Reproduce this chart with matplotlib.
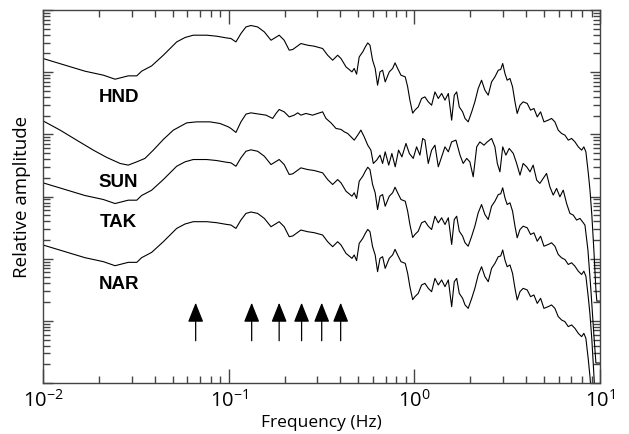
import numpy as np
import matplotlib
matplotlib.use("Agg")
import matplotlib.pyplot as plt
from matplotlib.ticker import LogLocator, NullFormatter

plt.rcParams["font.family"] = ["Open Sans", "DejaVu Sans"]

# spectra, stored as log10(frequency) / log10(amplitude)
# HND, TAK and NAR share one shape (offset by whole decades), SUN differs
base_logf = [
    -2.000, -1.774, -1.675, -1.612, -1.541, -1.495, -1.469, -1.415, -1.352, -1.280,
    -1.235, -1.191, -1.118, -1.065, -1.011, -0.988, -0.961, -0.934, -0.907, -0.880,
    -0.844, -0.808, -0.772, -0.728, -0.701, -0.674, -0.655, -0.611, -0.575, -0.539,
    -0.494, -0.467, -0.440, -0.413, -0.395, -0.368, -0.351, -0.336, -0.324, -0.311,
    -0.297, -0.278, -0.264, -0.251, -0.239, -0.225, -0.211, -0.198, -0.185, -0.171,
    -0.157, -0.135, -0.117, -0.104, -0.090, -0.072, -0.049, -0.036, -0.024, -0.009,
    0.003, 0.021, 0.039, 0.057, 0.075, 0.093, 0.111, 0.129, 0.147, 0.165,
    0.183, 0.201, 0.215, 0.228, 0.242, 0.260, 0.273, 0.290, 0.309, 0.326,
    0.344, 0.362, 0.380, 0.398, 0.416, 0.434, 0.452, 0.465, 0.476, 0.488,
    0.500, 0.515, 0.529, 0.542, 0.554, 0.569, 0.586, 0.608, 0.626, 0.644,
    0.662, 0.680, 0.698, 0.721, 0.739, 0.757, 0.775, 0.793, 0.811, 0.829,
    0.847, 0.865, 0.883, 0.901, 0.913, 0.924, 0.937, 0.946, 0.956, 0.967,
    0.978, 0.983, 1.000,
]
base_loga = [
    5.220, 5.016, 4.952, 4.887, 4.941, 4.941, 5.016, 5.101, 5.273, 5.487,
    5.558, 5.595, 5.595, 5.579, 5.551, 5.542, 5.487, 5.622, 5.728, 5.751,
    5.728, 5.648, 5.514, 5.595, 5.514, 5.354, 5.365, 5.461, 5.434, 5.418,
    5.381, 5.273, 5.193, 5.273, 5.220, 5.085, 5.043, 5.005, 5.060, 4.968,
    5.246, 5.326, 5.407, 5.471, 5.434, 5.193, 5.060, 4.791, 5.005, 5.032,
    4.844, 5.005, 5.060, 5.150, 5.060, 4.952, 4.924, 4.764, 4.550, 4.341,
    4.389, 4.442, 4.577, 4.603, 4.523, 4.469, 4.683, 4.577, 4.658, 4.550,
    4.658, 4.228, 4.630, 4.683, 4.442, 4.362, 4.256, 4.201, 4.362, 4.523,
    4.738, 4.871, 4.711, 4.630, 4.844, 4.924, 5.032, 5.043, 5.140, 4.979,
    4.871, 4.899, 4.764, 4.523, 4.336, 4.469, 4.523, 4.497, 4.389, 4.416,
    4.281, 4.362, 4.201, 4.228, 4.256, 4.201, 4.068, 4.014, 3.987, 3.907,
    3.934, 3.879, 3.799, 3.746, 3.799, 3.719, 3.376, 3.103, 2.701, 2.138,
    1.495, 1.318, 1.318,
]

sun_logf = [
    -2.000, -1.908, -1.819, -1.729, -1.657, -1.585, -1.541, -1.495, -1.451, -1.406,
    -1.352, -1.298, -1.226, -1.172, -1.101, -1.047, -1.002, -0.988, -0.961, -0.934,
    -0.907, -0.880, -0.835, -0.799, -0.763, -0.745, -0.728, -0.701, -0.674, -0.647,
    -0.628, -0.611, -0.584, -0.548, -0.521, -0.494, -0.476, -0.449, -0.422, -0.395,
    -0.377, -0.359, -0.341, -0.324, -0.305, -0.288, -0.270, -0.251, -0.234, -0.221,
    -0.203, -0.185, -0.171, -0.157, -0.138, -0.121, -0.103, -0.085, -0.067, -0.045,
    -0.027, -0.006, 0.012, 0.030, 0.045, 0.057, 0.075, 0.093, 0.111, 0.129,
    0.147, 0.165, 0.183, 0.201, 0.224, 0.246, 0.263, 0.282, 0.299, 0.317,
    0.336, 0.353, 0.375, 0.393, 0.416, 0.434, 0.447, 0.461, 0.476, 0.493,
    0.511, 0.533, 0.551, 0.569, 0.586, 0.605, 0.623, 0.640, 0.659, 0.676,
    0.694, 0.712, 0.730, 0.748, 0.766, 0.784, 0.802, 0.820, 0.838, 0.856,
    0.874, 0.892, 0.906, 0.919, 0.935, 0.951, 0.967, 0.978, 1.000,
]
sun_loga = [
    4.217, 4.068, 3.907, 3.746, 3.629, 3.532, 3.505, 3.558, 3.613, 3.746,
    3.918, 4.068, 4.185, 4.201, 4.201, 4.175, 4.121, 4.095, 4.031, 4.201,
    4.325, 4.346, 4.325, 4.309, 4.256, 4.336, 4.400, 4.362, 4.281, 4.309,
    4.346, 4.309, 4.336, 4.309, 4.336, 4.362, 4.256, 4.185, 4.095, 4.079,
    4.040, 4.014, 3.960, 3.907, 3.987, 4.068, 3.960, 3.826, 3.746, 3.532,
    3.585, 3.666, 3.532, 3.719, 3.505, 3.693, 3.478, 3.746, 3.638, 3.854,
    3.693, 3.613, 3.799, 3.666, 3.934, 3.907, 3.532, 3.746, 3.826, 3.478,
    3.638, 3.799, 3.719, 3.879, 3.907, 3.666, 3.532, 3.613, 3.558, 3.317,
    3.799, 3.879, 3.826, 3.879, 3.934, 3.799, 3.532, 3.397, 3.799, 3.666,
    3.773, 3.693, 3.532, 3.344, 3.532, 3.478, 3.397, 3.505, 3.264, 3.211,
    3.291, 3.371, 3.156, 3.023, 3.130, 2.995, 3.103, 2.889, 2.728, 2.701,
    2.621, 2.648, 2.593, 2.540, 2.138, 1.495, 0.772, 0.322, 0.322,
]

stations = ["HND", "SUN", "TAK", "NAR"]
base_offsets = {"HND": 0.0, "TAK": -2.0, "NAR": -3.0}

# arrow frequencies (Hz)
arrow_freqs = [0.0664, 0.133, 0.187, 0.247, 0.317, 0.401]

fig = plt.figure(figsize=(6.29, 4.34), dpi=100)
ax = fig.add_axes([0.0684, 0.1175, 0.8855, 0.8594])

for name in stations:
    if name == "SUN":
        lf = np.array(sun_logf)
        la = np.array(sun_loga)
    else:
        lf = np.array(base_logf)
        la = np.array(base_loga) + base_offsets[name]
    ax.plot(10 ** lf, 10 ** la, color="black", lw=0.8)

ax.set_xscale("log")
ax.set_yscale("log")
ax.set_xlim(1e-2, 1e1)
ax.set_ylim(1e0, 1e6)

# station labels
label_pos = {"HND": 4.60, "SUN": 3.23, "TAK": 2.59, "NAR": 1.58}
for name in stations:
    ax.text(0.0255, 10 ** label_pos[name], name, ha="center", va="center",
            fontsize=13.5, fontweight="bold", family="Liberation Sans")

for f in arrow_freqs:
    ax.annotate("", xy=(f, 10 ** 1.291), xytext=(f, 10 ** 0.68),
                arrowprops=dict(arrowstyle="-|>,head_length=1.2,head_width=0.48",
                                mutation_scale=10, color="black", lw=0.9,
                                shrinkA=0, shrinkB=0))

for s in ax.spines.values():
    s.set_color("#444444")
    s.set_linewidth(1.0)

ax.xaxis.set_minor_locator(LogLocator(base=10, subs=np.arange(2, 10), numticks=20))
ax.yaxis.set_minor_locator(LogLocator(base=10, subs=np.arange(2, 10), numticks=20))
ax.yaxis.set_major_formatter(NullFormatter())
ax.yaxis.set_minor_formatter(NullFormatter())
ax.tick_params(which="both", direction="in", top=True, right=True, color="#444444")
ax.tick_params(axis="x", which="major", length=10, width=1, labelsize=14.5, pad=5)
ax.tick_params(axis="x", which="minor", length=5, width=1)
ax.tick_params(axis="y", which="major", length=7, width=1)
ax.tick_params(axis="y", which="minor", length=5, width=1)

ax.set_xlabel("Frequency (Hz)", fontsize=12.5, va="top")
ax.xaxis.set_label_coords(0.5, -0.087)
ax.set_ylabel("Relative amplitude", fontsize=13.5, labelpad=5)

fig.savefig("out.png", dpi=100)
